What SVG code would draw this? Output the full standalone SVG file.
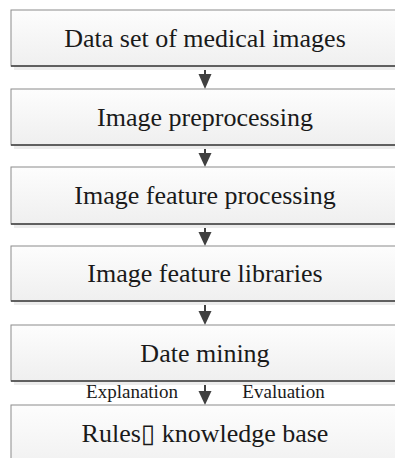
<svg xmlns="http://www.w3.org/2000/svg" width="395" height="458" viewBox="0 0 395 458">
<style>
.shadow{fill:#ececec}
.box{fill:url(#g);stroke:#8c8c8c;stroke-width:1}
.bot{stroke:#404040;stroke-width:1.5}
.t{font-size:26px;fill:#1a1a1a;text-anchor:middle}
.lbl{font-size:19px;fill:#1a1a1a;text-anchor:middle}
.c{stroke:#404040;stroke-width:2;fill:none}
</style>
<defs>
<linearGradient id="g" x1="0" y1="0" x2="0" y2="1">
<stop offset="0" stop-color="#fdfdfd"/>
<stop offset="1" stop-color="#efefef"/>
</linearGradient>
</defs>
<rect width="395" height="458" fill="#fff"/>
<g id="connectors" font-family="Liberation Serif, Times New Roman, DejaVu Serif, serif">
<line class="c" x1="205" y1="66" x2="205" y2="78" />
<path d="M198.5,74 L211.5,74 L205,89 Z" fill="#404040"/>
<line class="c" x1="205" y1="145" x2="205" y2="157" />
<path d="M198.5,153 L211.5,153 L205,167 Z" fill="#404040"/>
<line class="c" x1="205" y1="224" x2="205" y2="236" />
<path d="M198.5,232 L211.5,232 L205,246 Z" fill="#404040"/>
<line class="c" x1="205" y1="301" x2="205" y2="315" />
<path d="M198.5,311 L211.5,311 L205,325 Z" fill="#404040"/>
<line class="c" x1="205" y1="381" x2="205" y2="395" />
<path d="M198.5,391 L211.5,391 L205,405 Z" fill="#404040"/>
<text class="lbl" x="132" y="398">Explanation</text>
<text class="lbl" x="283.5" y="398">Evaluation</text>
</g>
<g font-family="Liberation Serif, Times New Roman, DejaVu Serif, serif">
<g id="n1">
<rect class="shadow" x="14" y="66" width="384" height="4"/>
<rect class="box" x="11" y="10" width="400" height="56"/>
<line class="bot" x1="11" y1="66" x2="395" y2="66"/>
<text class="t" x="205" y="47">Data set of medical images</text>
</g>
<g id="n2">
<rect class="shadow" x="14" y="145" width="384" height="4"/>
<rect class="box" x="11" y="89" width="400" height="56"/>
<line class="bot" x1="11" y1="145" x2="395" y2="145"/>
<text class="t" x="205" y="126">Image preprocessing</text>
</g>
<g id="n3">
<rect class="shadow" x="14" y="224" width="384" height="4"/>
<rect class="box" x="11" y="167" width="400" height="57"/>
<line class="bot" x1="11" y1="224" x2="395" y2="224"/>
<text class="t" x="205" y="204">Image feature processing</text>
</g>
<g id="n4">
<rect class="shadow" x="14" y="301" width="384" height="4"/>
<rect class="box" x="11" y="246" width="400" height="55"/>
<line class="bot" x1="11" y1="301" x2="395" y2="301"/>
<text class="t" x="205" y="282">Image feature libraries</text>
</g>
<g id="n5">
<rect class="shadow" x="14" y="381" width="384" height="4"/>
<rect class="box" x="11" y="325" width="400" height="56"/>
<line class="bot" x1="11" y1="381" x2="395" y2="381"/>
<text class="t" x="205" y="362">Date mining</text>
</g>
<g id="n6">
<rect class="box" x="11" y="405" width="400" height="70"/>
<text class="t" x="205" y="442">Rules▯ knowledge base</text>
</g>
</g>
</svg>
